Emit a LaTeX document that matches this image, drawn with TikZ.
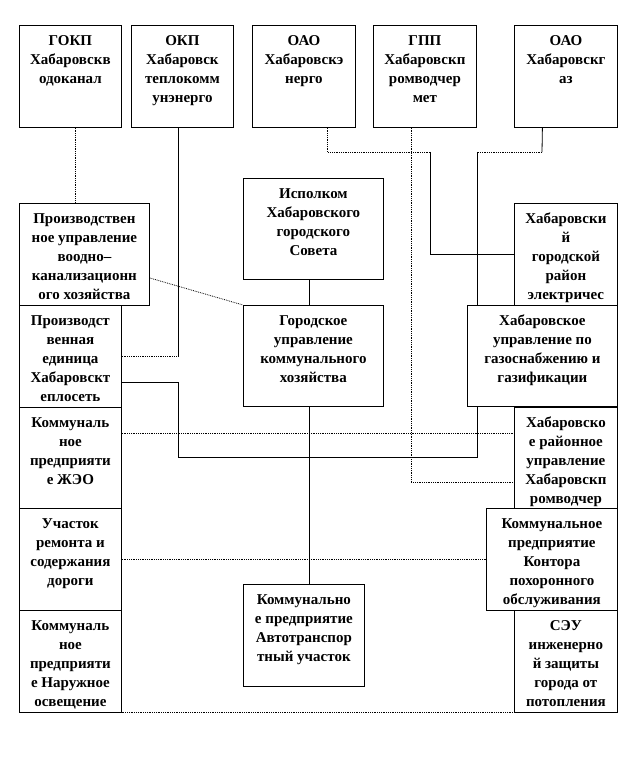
\documentclass[tikz,border=0pt]{standalone}
\usepackage{fontspec}
\setmainfont{Liberation Serif}

\begin{document}
\begin{tikzpicture}[
    x=1pt,y=-1pt,
    font={\fontsize{15}{18.8}\selectfont\bfseries},
    unit/.style={draw=black,line width=0.8pt,anchor=north west,inner sep=0pt},
    caption/.style={anchor=north,inner sep=0pt,align=center,yshift=-7.5pt},
    link/.style={draw=black,line width=0.8pt},
    weak/.style={draw=black,line width=0.8pt,densely dotted}
  ]
    \useasboundingbox (0,0) rectangle (635,762);

    % top row
    \node[unit,minimum width=102pt,minimum height=102pt] (gokp) at (19,25) {};
    \node[unit,minimum width=102pt,minimum height=102pt] (okp) at (131,25) {};
    \node[unit,minimum width=103pt,minimum height=102pt] (energo) at (252,25) {};
    \node[unit,minimum width=103pt,minimum height=102pt] (gpp) at (373,25) {};
    \node[unit,minimum width=103pt,minimum height=102pt] (gaz) at (514,25) {};

    % left column
    \node[unit,minimum width=130pt,minimum height=102pt] (puvkh) at (19,203) {};
    \node[unit,minimum width=102pt,minimum height=102pt] (teplo) at (19,305) {};
    \node[unit,minimum width=102pt,minimum height=101pt] (zheo) at (19,407) {};
    \node[unit,minimum width=102pt,minimum height=102pt] (road) at (19,508) {};
    \node[unit,minimum width=102pt,minimum height=102pt] (light) at (19,610) {};

    % centre
    \node[unit,minimum width=140pt,minimum height=101pt] (ispolkom) at (243,178) {};
    \node[unit,minimum width=140pt,minimum height=101pt] (gukh) at (243,305) {};
    \node[unit,minimum width=121pt,minimum height=102pt] (auto) at (243,584) {};

    % right column
    \node[unit,minimum width=103pt,minimum height=102pt] (elek) at (514,203) {};
    \node[unit,minimum width=150pt,minimum height=101pt] (gasif) at (467,305) {};
    \node[unit,minimum width=103pt,minimum height=101pt] (rayon) at (514,407) {};
    \node[unit,minimum width=131pt,minimum height=102pt] (burial) at (486,508) {};
    \node[unit,minimum width=103pt,minimum height=102pt] (seu) at (514,610) {};

    \node[caption] (gokp-t) at (gokp.north) {\strut ГОКП\\Хабаровскв\\одоканал};
    \node[caption] (okp-t) at (okp.north) {\strut ОКП\\Хабаровск\\теплокомм\\унэнерго};
    \node[caption] (energo-t) at (energo.north) {\strut ОАО\\Хабаровскэ\\нерго};
    \node[caption] (gpp-t) at (gpp.north) {\strut ГПП\\Хабаровскп\\ромводчер\\мет};
    \node[caption] (gaz-t) at (gaz.north) {\strut ОАО\\Хабаровскг\\аз};
    \node[caption] (puvkh-t) at (puvkh.north) {\strut Производствен\\ное управление\\воодно–\\канализационн\\ого хозяйства};
    \node[caption] (teplo-t) at (teplo.north) {\strut Производст\\венная\\единица\\Хабаровскт\\еплосеть};
    \node[caption] (zheo-t) at (zheo.north) {\strut Коммуналь\\ное\\предприяти\\е ЖЭО};
    \node[caption] (road-t) at (road.north) {\strut Участок\\ремонта и\\содержания\\дороги};
    \node[caption] (light-t) at (light.north) {\strut Коммуналь\\ное\\предприяти\\е Наружное\\освещение};
    \node[caption] (ispolkom-t) at (ispolkom.north) {\strut Исполком\\Хабаровского\\городского\\Совета};
    \node[caption] (gukh-t) at (gukh.north) {\strut Городское\\управление\\коммунального\\хозяйства};
    \node[caption] (auto-t) at (auto.north) {\strut Коммунально\\е предприятие\\Автотранспор\\тный участок};
    \node[caption] (elek-t) at (elek.north) {\strut Хабаровски\\й\\городской\\район\\электричес};
    \node[caption] (gasif-t) at (gasif.north) {\strut Хабаровское\\управление по\\газоснабжению и\\газификации};
    \node[caption] (rayon-t) at (rayon.north) {\strut Хабаровско\\е районное\\управление\\Хабаровскп\\ромводчер};
    \node[caption] (burial-t) at (burial.north) {\strut Коммунальное\\предприятие\\Контора\\похоронного\\обслуживания};
    \node[caption] (seu-t) at (seu.north) {\strut СЭУ\\инженерно\\й защиты\\города от\\потопления};

    % connection points
    \coordinate (gokp-out) at ([xshift=5pt]gokp.south);
    \coordinate (okp-out) at ([xshift=-4pt]okp.south);
    \coordinate (energo-out) at ([xshift=23.5pt]energo.south);
    \coordinate (elek-bend) at (430,152);
    \coordinate (gpp-out) at ([xshift=-13.5pt]gpp.south);
    \coordinate (rayon-in) at ([yshift=-24.5pt]rayon.west);
    \coordinate (gaz-out) at ([xshift=-23.5pt]gaz.south);
    \coordinate (gaz-bend) at (542,152);
    \coordinate (gasif-in) at ([xshift=10pt]gasif.north west);
    \coordinate (gasif-out) at ([xshift=10pt]gasif.south west);
    \coordinate (teplo-out) at ([yshift=-26pt]teplo.east);
    \coordinate (low) at (178,457);
    \coordinate (axis) at ([xshift=-4pt]ispolkom.south);
    \coordinate (puvkh-out) at ([yshift=-75pt]puvkh.north east);
    \coordinate (zheo-out) at ([yshift=25pt]zheo.east);

    \draw[weak] (gokp-out) -- (gokp-out |- puvkh.north);
    \draw[link] (okp-out) -- (okp-out |- teplo.east);
    \draw[weak] (okp-out |- teplo.east) -- (teplo.east);
    \draw[weak] (energo-out) |- (elek-bend);
    \draw[link] (elek-bend) |- (elek.west);
    \draw[weak] (gpp-out) |- (rayon-in);
    \draw[link] (gaz-out) -- (gaz-bend);
    \draw[weak] (gaz-bend) -- (gaz-bend -| gasif-in);
    \draw[link] (gaz-bend -| gasif-in) -- (gasif-in);
    \draw[link] (teplo-out) -| (low) -| (gasif-out);
    \draw[link] (axis) -- (axis |- gukh.north);
    \draw[link] (axis |- gukh.south) -- (axis |- auto.north);
    \draw[weak] (puvkh-out) -- (gukh.north west);
    \draw[weak] (zheo-out) -- (zheo-out -| rayon.west);
    \draw[weak] (road.east) -- (burial.west);
    \draw[weak] (light.south west) -- (seu.south west);
  \end{tikzpicture}
\end{document}
